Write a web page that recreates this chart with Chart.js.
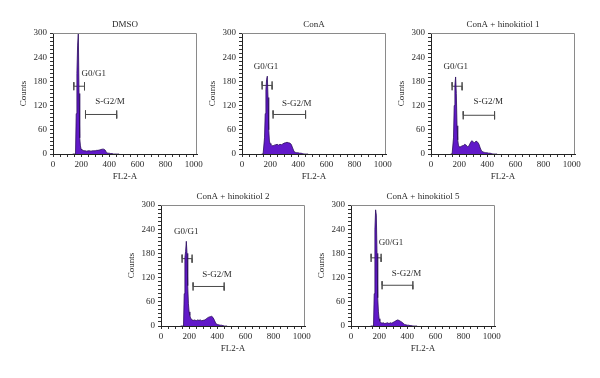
<!DOCTYPE html>
<html>
<head>
<meta charset="utf-8">
<script src="https://cdn.jsdelivr.net/npm/chart.js@4.4.1/dist/chart.umd.min.js"></script>
<style>
html,body{margin:0;padding:0;background:#fff;}
#wrap{position:relative;width:600px;height:378px;overflow:hidden;background:#fff;}
canvas{position:absolute;}
</style>
</head>
<body>
<div id="wrap"></div>
<script>
// ---------- DATA ----------
const panelTitles = ['DMSO', 'ConA', 'ConA + hinokitiol 1', 'ConA + hinokitiol 2', 'ConA + hinokitiol 5'];

const channels = [140,150,155,160,165,170,175,180,185,190,195,200,205,210,
  220,230,240,250,260,270,280,290,300,310,320,330,340,350,360,370,380,390,400,410,420,430,440,450,460,470];

const countsDMSO = [0,0,0,0,100,200,270,300,150,40,20,12,10,9,
  8,8,7,8,8,7,8,8,8,9,9,10,11,12,12,10,4,2,2,1,1,0,0,0,0,0];
const countsConA = [0,0,0,40,100,160,185,193,140,60,32,26,24,22,
  20,22,23,24,22,24,23,25,27,28,29,28,27,24,15,6,4,3,3,2,2,1,0,0,0,0];
const countsHino1 = [0,0,0,40,120,170,191,150,70,35,22,18,17,18,
  20,21,24,22,18,20,28,33,30,28,32,30,25,15,7,5,4,3,3,2,2,1,0,0,0,0];
const countsHino2 = [0,0,0,0,80,170,185,210,180,100,55,35,26,20,
  15,14,15,13,15,14,15,13,14,15,17,20,22,23,24,21,14,6,4,3,2,2,1,0,0,0];
const countsHino5 = [0,0,0,0,80,240,288,275,180,70,35,18,12,9,
  7,8,6,7,8,6,8,7,9,11,13,15,14,12,10,7,4,3,2,2,1,1,0,0,0,0];
const panelCounts = [countsDMSO, countsConA, countsHino1, countsHino2, countsHino5];

// gate markers: [start channel, end channel, count level]
const g1Gates = [[148,224,168],[143,214,170],[150,221,168],[150,221,167],[143,214,169]];
const sGates  = [[231,453,98],[221,452,98],[229,452,96],[228,449,98],[221,440,101]];
// gate label anchors: [channel, count]
const g1LabelPos = [[289,199],[170,216],[176,217],[180,233],[285,206]];
const sLabelPos  = [[405,129],[390,124],[407,129],[399,127],[395,131]];
const g1Label = 'G0/G1';
const sLabel = 'S-G2/M';

const xTicks = [];
for (let v = 0; v <= 1000; v += 50) xTicks.push(v);
const xMajor = [0,200,400,600,800,1000];
const yTicks = [];
for (let v = 0; v <= 300; v += 10) yTicks.push(v);
const yMajor = [0,60,120,180,240,300];
const xMax = 1024, yMax = 300;

// ---------- LAYOUT ----------
const plotOrigins = [[53,33],[242,33],[431,33],[161,205],[351,205]];
const PLOT_W = 144, PLOT_H = 121, Y_AXIS_W = 45, TITLE_H = 18, X_AXIS_H = 30, PAD_R = 12;
const FONT = "'Liberation Serif', 'DejaVu Serif', serif";
const TEXT = '#2a2a2a';

function bracket(g) {
  const [a, b, y] = g, c = 10;
  return [{x:a,y:y+c},{x:a,y:y-c},{x:a,y:y},{x:b,y:y},{x:b,y:y+c},{x:b,y:y-c}];
}

const framePlugin = {
  id: 'frameAndLabels',
  afterDatasetsDraw(chart, args, opts) {
    const {ctx, chartArea: a, scales} = chart;
    ctx.save();
    ctx.strokeStyle = '#8a8a8a';
    ctx.lineWidth = 1;
    ctx.beginPath();
    ctx.moveTo(a.left, a.top + 0.5);
    ctx.lineTo(a.right - 0.5, a.top + 0.5);
    ctx.lineTo(a.right - 0.5, a.bottom);
    ctx.stroke();
    ctx.fillStyle = TEXT;
    ctx.font = '9px ' + FONT;
    ctx.textAlign = 'center';
    ctx.textBaseline = 'middle';
    for (const l of opts.labels) {
      ctx.fillText(l.text, scales.x.getPixelForValue(l.x), scales.y.getPixelForValue(l.y));
    }
    ctx.restore();
  }
};

const wrap = document.getElementById('wrap');
panelTitles.forEach((title, i) => {
  const [pl, pt] = plotOrigins[i];
  const cv = document.createElement('canvas');
  const w = Y_AXIS_W + PLOT_W + PAD_R, h = TITLE_H + PLOT_H + X_AXIS_H;
  cv.width = w; cv.height = h;
  cv.style.left = (pl - Y_AXIS_W) + 'px';
  cv.style.top = (pt - TITLE_H) + 'px';
  cv.style.width = w + 'px'; cv.style.height = h + 'px';
  wrap.appendChild(cv);

  const counts = panelCounts[i];
  new Chart(cv, {
    type: 'line',
    data: {
      datasets: [
        {
          label: title,
          data: channels.map((c, k) => ({x: c, y: counts[k]})),
          borderColor: '#2a0b5c',
          borderWidth: 0.8,
          backgroundColor: '#6119c9',
          fill: 'origin',
          pointRadius: 0,
          tension: 0
        },
        {
          label: g1Label,
          data: bracket(g1Gates[i]),
          borderColor: '#4a4a4a',
          borderWidth: 1,
          fill: false,
          pointRadius: 0,
          tension: 0
        },
        {
          label: sLabel,
          data: bracket(sGates[i]),
          borderColor: '#4a4a4a',
          borderWidth: 1,
          fill: false,
          pointRadius: 0,
          tension: 0
        }
      ]
    },
    options: {
      responsive: false,
      animation: false,
      devicePixelRatio: 1,
      layout: {padding: {left: 0, right: PAD_R, top: 0, bottom: 0}},
      plugins: {
        legend: {display: false},
        tooltip: {enabled: false},
        title: {
          display: true,
          text: title,
          fullSize: false,
          color: TEXT,
          font: {family: FONT, size: 9, weight: 'normal', lineHeight: 1},
          padding: {top: 5, bottom: 4}
        },
        frameAndLabels: {
          labels: [
            {text: g1Label, x: g1LabelPos[i][0], y: g1LabelPos[i][1]},
            {text: sLabel, x: sLabelPos[i][0], y: sLabelPos[i][1]}
          ]
        }
      },
      scales: {
        x: {
          type: 'linear',
          min: 0, max: xMax,
          afterFit: s => { s.height = X_AXIS_H; },
          afterBuildTicks: s => { s.ticks = xTicks.map(v => ({value: v})); },
          ticks: {
            autoSkip: false, maxRotation: 0, minRotation: 0,
            padding: 2, color: TEXT,
            font: {family: FONT, size: 9},
            callback: v => xMajor.includes(v) ? String(v) : ''
          },
          grid: {display: true, drawOnChartArea: false, drawTicks: true, tickLength: 3, color: '#333', lineWidth: 1},
          border: {display: true, color: '#222', width: 1},
          title: {display: true, text: 'FL2-A', color: TEXT, font: {family: FONT, size: 9}, padding: {top: 0, bottom: 2}}
        },
        y: {
          type: 'linear',
          min: 0, max: yMax,
          afterFit: s => { s.width = Y_AXIS_W; },
          afterBuildTicks: s => { s.ticks = yTicks.map(v => ({value: v})); },
          ticks: {
            autoSkip: false, padding: 3, color: TEXT,
            font: {family: FONT, size: 9},
            callback: v => yMajor.includes(v) ? String(v) : ''
          },
          grid: {display: true, drawOnChartArea: false, drawTicks: true, tickLength: 3, color: '#333', lineWidth: 1},
          border: {display: true, color: '#222', width: 1},
          title: {display: true, text: 'Counts', color: TEXT, font: {family: FONT, size: 9}, padding: {top: 10, bottom: 0}}
        }
      }
    },
    plugins: [framePlugin]
  });
});
</script>
</body>
</html>
